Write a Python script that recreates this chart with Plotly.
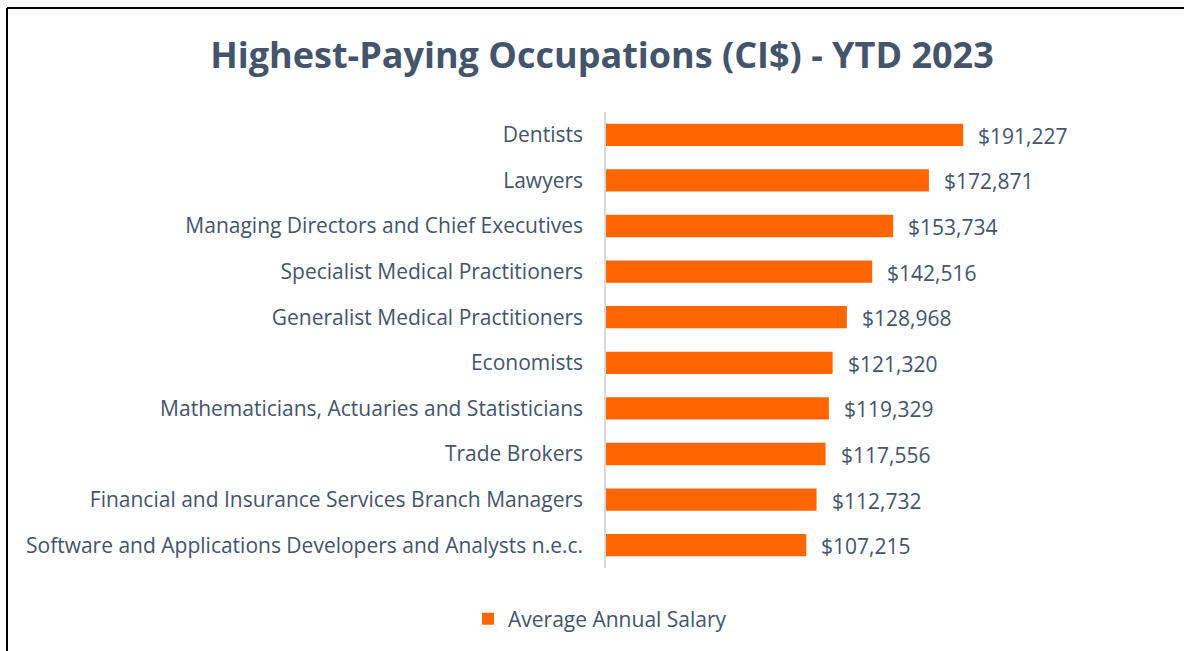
import plotly.graph_objects as go

occupations = [
    "Dentists",
    "Lawyers",
    "Managing Directors and Chief Executives",
    "Specialist Medical Practitioners",
    "Generalist Medical Practitioners",
    "Economists",
    "Mathematicians, Actuaries and Statisticians",
    "Trade Brokers",
    "Financial and Insurance Services Branch Managers",
    "Software and Applications Developers and Analysts n.e.c.",
]
salaries = [191227, 172871, 153734, 142516, 128968, 121320, 119329, 117556, 112732, 107215]
series_name = "Average Annual Salary"
title_text = "Highest-Paying Occupations (CI$) - YTD 2023"

BAR = "#FF6600"
TXT = "#44546A"
FONT = "Open Sans"

W, H = 1184, 651
ML, MR, MT, MB = 606, 111, 112, 83
pw = W - ML - MR
ph = H - MT - MB

fig = go.Figure()
fig.add_trace(go.Bar(
    x=salaries, y=occupations, orientation="h",
    marker=dict(color=BAR, line=dict(width=0)),
    name=series_name, showlegend=True,
))

for occ, val in zip(occupations, salaries):
    fig.add_annotation(x=val, y=occ, xref="x", yref="y", text=f"${val:,}",
                       showarrow=False, xanchor="left", xshift=13, yshift=-1,
                       font=dict(family=FONT, size=21, color=TXT))

def px_x(px):
    return (px - ML) / pw

def px_y(py):
    return (H - MB - py) / ph

# border lines of the chart frame
fig.add_shape(type="line", xref="paper", yref="paper",
              x0=px_x(7), x1=px_x(7), y0=px_y(8), y1=px_y(700),
              line=dict(color="black", width=2))
fig.add_shape(type="line", xref="paper", yref="paper",
              x0=px_x(7), x1=px_x(1250), y0=px_y(8), y1=px_y(8),
              line=dict(color="black", width=2))

fig.update_layout(
    width=W, height=H,
    margin=dict(l=ML, r=MR, t=MT, b=MB),
    paper_bgcolor="white", plot_bgcolor="white",
    title=dict(text=title_text, x=602 / W, xref="container", xanchor="center",
               y=1 - 55 / H, yref="container", yanchor="middle",
               font=dict(family=FONT, size=36, color=TXT, weight="bold")),
    xaxis=dict(range=[0, 250000], showgrid=False, showticklabels=False,
               zeroline=False, showline=False, ticks=""),
    yaxis=dict(autorange="reversed", showgrid=False, ticks="",
               showline=True, linecolor="#D9D9D9", linewidth=1.5,
               ticklabelstandoff=17,
               tickfont=dict(family=FONT, size=21, color=TXT)),
    bargap=0.51,
    legend=dict(orientation="h", x=px_x(600), xanchor="center",
                y=px_y(619), yanchor="middle",
                font=dict(family=FONT, size=21, color=TXT),
                itemwidth=30),
    font=dict(family=FONT, color=TXT),
)

fig.write_html("out.html", config={"displayModeBar": False},
               post_script="document.body.style.margin='0';")
